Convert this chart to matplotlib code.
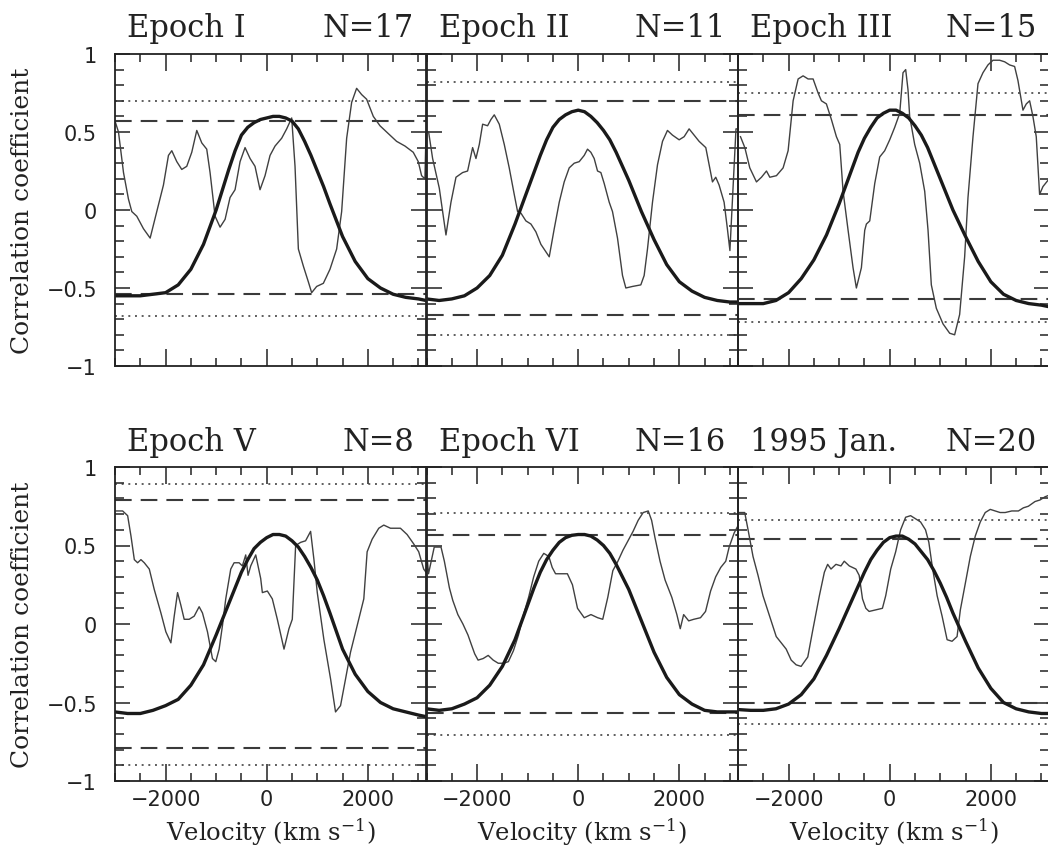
import matplotlib
matplotlib.use("Agg")
import matplotlib.pyplot as plt
from matplotlib.ticker import MultipleLocator, FixedLocator, FixedFormatter

plt.rcParams['lines.scale_dashes'] = False
plt.rcParams['mathtext.fontset'] = 'dejavuserif'

# ---------------- data ----------------
titles = ["Epoch I", "Epoch II", "Epoch III", "Epoch V", "Epoch VI", "1995 Jan."]
n_labels = ["N=17", "N=11", "N=15", "N=8", "N=16", "N=20"]

# significance levels (dashed, dotted): upper / lower
dash_hi = [0.57, 0.70, 0.61, 0.79, 0.57, 0.54]
dash_lo = [-0.54, -0.67, -0.57, -0.79, -0.57, -0.50]
dot_hi = [0.70, 0.82, 0.75, 0.89, 0.71, 0.66]
dot_lo = [-0.68, -0.80, -0.72, -0.90, -0.71, -0.64]

# thin lines: observed cross-correlation
vel_1 = [-2990, -2931, -2832, -2734, -2668, -2569, -2437, -2305, -2174, -2042,
         -1943, -1877, -1778, -1680, -1581, -1482, -1383, -1284, -1186, -1120,
         -1021, -922, -823, -725, -626, -527, -428, -329, -231, -132,
         -33, 66, 165, 296, 395, 494, 560, 626, 725, 823,
         889, 988, 1120, 1251, 1383, 1482, 1581, 1680, 1778, 1877,
         1976, 2108, 2240, 2404, 2569, 2734, 2898, 2997, 3063, 3129, 3150]
corr_1 = [0.56, 0.50, 0.24, 0.07, -0.01, -0.04, -0.12, -0.18, -0.01, 0.16,
          0.35, 0.38, 0.31, 0.26, 0.28, 0.37, 0.51, 0.43, 0.39, 0.24,
          -0.04, -0.11, -0.06, 0.08, 0.13, 0.31, 0.40, 0.33, 0.28, 0.13,
          0.22, 0.35, 0.41, 0.46, 0.52, 0.59, 0.28, -0.25, -0.36, -0.46,
          -0.53, -0.49, -0.47, -0.38, -0.25, -0.01, 0.46, 0.69, 0.78, 0.74,
          0.71, 0.60, 0.54, 0.49, 0.44, 0.41, 0.37, 0.31, 0.22, 0.20, 0.50]

vel_2 = [-2958, -2879, -2747, -2615, -2516, -2417, -2286, -2187, -2088, -2022,
         -1956, -1890, -1792, -1726, -1660, -1561, -1462, -1364, -1265, -1199,
         -1133, -1034, -935, -837, -738, -573, -474, -375, -277, -178,
         -79, 20, 119, 184, 250, 316, 382, 448, 514, 613,
         678, 777, 876, 942, 1074, 1238, 1304, 1370, 1469, 1568,
         1667, 1765, 1864, 1996, 2095, 2193, 2292, 2391, 2523, 2589,
         2655, 2720, 2786, 2885, 2950, 3000, 3120, 3150]
corr_2 = [0.50, 0.33, 0.14, -0.16, 0.05, 0.21, 0.24, 0.25, 0.40, 0.33,
          0.42, 0.55, 0.54, 0.58, 0.61, 0.55, 0.42, 0.27, 0.10, -0.01,
          -0.02, -0.07, -0.09, -0.14, -0.22, -0.30, -0.12, 0.05, 0.18, 0.27,
          0.30, 0.31, 0.35, 0.39, 0.37, 0.33, 0.25, 0.24, 0.17, 0.05,
          -0.01, -0.18, -0.42, -0.50, -0.49, -0.48, -0.42, -0.25, 0.05, 0.29,
          0.44, 0.51, 0.48, 0.45, 0.47, 0.52, 0.48, 0.44, 0.40, 0.29,
          0.18, 0.21, 0.16, 0.05, -0.12, -0.26, 0.52, 0.52]

vel_3 = [-2951, -2865, -2767, -2635, -2536, -2437, -2371, -2240, -2108, -2009,
         -1910, -1811, -1713, -1614, -1515, -1416, -1350, -1252, -1153, -1054,
         -988, -922, -823, -725, -659, -560, -494, -461, -395, -296,
         -198, -99, 0, 99, 198, 263, 316, 362, 395, 494,
         593, 692, 758, 823, 922, 1054, 1186, 1284, 1383, 1482,
         1548, 1647, 1746, 1844, 1943, 2042, 2174, 2273, 2371, 2470,
         2536, 2635, 2701, 2767, 2832, 2898, 2964, 3030, 3129]
corr_3 = [0.47, 0.40, 0.27, 0.18, 0.21, 0.25, 0.21, 0.22, 0.27, 0.38,
          0.70, 0.84, 0.86, 0.84, 0.84, 0.75, 0.70, 0.68, 0.58, 0.47,
          0.42, 0.12, -0.13, -0.37, -0.50, -0.37, -0.13, -0.09, -0.07, 0.17,
          0.34, 0.38, 0.45, 0.53, 0.62, 0.88, 0.90, 0.77, 0.60, 0.42,
          0.30, 0.12, -0.13, -0.48, -0.63, -0.73, -0.79, -0.80, -0.67, -0.30,
          0.08, 0.47, 0.81, 0.88, 0.93, 0.96, 0.96, 0.95, 0.93, 0.92,
          0.83, 0.64, 0.68, 0.70, 0.60, 0.47, 0.10, 0.15, 0.19]

vel_4 = [-2980, -2849, -2750, -2684, -2618, -2553, -2487, -2421, -2322, -2224,
         -2092, -1994, -1895, -1829, -1763, -1698, -1632, -1533, -1434, -1336,
         -1270, -1171, -1073, -1007, -941, -875, -810, -711, -645, -546,
         -481, -415, -369, -316, -217, -119, -86, 13, 111, 210,
         342, 440, 506, 572, 671, 769, 868, 934, 1000, 1131,
         1263, 1361, 1460, 1559, 1657, 1789, 1920, 1986, 2085, 2216,
         2315, 2447, 2644, 2776, 2907, 3006, 3104, 3150]
corr_4 = [0.72, 0.72, 0.69, 0.56, 0.41, 0.39, 0.41, 0.39, 0.35, 0.22,
          0.07, -0.05, -0.12, 0.05, 0.20, 0.12, 0.03, 0.03, 0.05, 0.11,
          0.07, -0.05, -0.22, -0.24, -0.16, -0.01, 0.16, 0.35, 0.39, 0.39,
          0.37, 0.44, 0.31, 0.37, 0.44, 0.29, 0.20, 0.21, 0.16, 0.03,
          -0.16, -0.03, 0.03, 0.50, 0.52, 0.53, 0.59, 0.41, 0.20, -0.10,
          -0.35, -0.56, -0.52, -0.35, -0.18, -0.01, 0.16, 0.46, 0.54, 0.61,
          0.63, 0.61, 0.61, 0.57, 0.51, 0.46, 0.35, 0.33]

vel_5 = [-3000, -2960, -2847, -2713, -2647, -2547, -2480, -2380, -2280, -2180,
         -2114, -2047, -1980, -1880, -1780, -1681, -1581, -1481, -1381, -1281,
         -1181, -1081, -981, -881, -781, -681, -581, -514, -448, -348,
         -214, -114, -14, 119, 252, 385, 485, 585, 685, 785,
         885, 985, 1085, 1185, 1285, 1385, 1452, 1518, 1618, 1718,
         1851, 1951, 2018, 2085, 2185, 2285, 2418, 2518, 2618, 2718,
         2818, 2918, 2985, 3084, 3150]
corr_5 = [0.47, 0.32, 0.49, 0.49, 0.40, 0.23, 0.15, 0.06, 0.00, -0.07,
          -0.13, -0.19, -0.23, -0.22, -0.20, -0.23, -0.25, -0.25, -0.24, -0.17,
          -0.07, 0.06, 0.17, 0.30, 0.40, 0.45, 0.43, 0.36, 0.32, 0.32,
          0.32, 0.25, 0.10, 0.04, 0.06, 0.04, 0.03, 0.17, 0.34, 0.40,
          0.47, 0.53, 0.59, 0.66, 0.71, 0.72, 0.66, 0.55, 0.40, 0.28,
          0.17, 0.06, -0.03, 0.06, 0.02, 0.03, 0.04, 0.08, 0.21, 0.30,
          0.36, 0.40, 0.49, 0.58, 0.62]

vel_6 = [-2978, -2867, -2801, -2703, -2604, -2506, -2375, -2244, -2145, -2047,
         -1948, -1850, -1752, -1620, -1522, -1391, -1292, -1227, -1161, -1063,
         -964, -899, -800, -669, -604, -538, -472, -407, -276, -144,
         -79, 20, 118, 216, 315, 413, 512, 610, 708, 774,
         840, 938, 1036, 1135, 1233, 1332, 1397, 1496, 1594, 1692,
         1791, 1889, 1988, 2086, 2184, 2283, 2414, 2545, 2644, 2742,
         2873, 2972, 3070, 3150]
corr_6 = [0.71, 0.71, 0.60, 0.43, 0.31, 0.18, 0.05, -0.08, -0.12, -0.16,
          -0.23, -0.26, -0.27, -0.21, -0.04, 0.18, 0.33, 0.38, 0.35, 0.38,
          0.37, 0.40, 0.37, 0.35, 0.31, 0.16, 0.10, 0.08, 0.09, 0.10,
          0.18, 0.35, 0.46, 0.60, 0.68, 0.69, 0.67, 0.65, 0.60, 0.52,
          0.37, 0.18, 0.05, -0.10, -0.11, -0.08, 0.09, 0.26, 0.43, 0.56,
          0.65, 0.71, 0.73, 0.72, 0.71, 0.71, 0.72, 0.72, 0.74, 0.75,
          0.78, 0.79, 0.81, 0.82]

# thick lines: expected correlation curve
fit_vel = [-3000, -2750, -2500, -2250, -2000, -1750, -1500, -1250,
           -1000, -875, -750, -625, -500, -375, -250, -125, 0,
           125, 250, 375, 500, 625, 750, 875, 1000, 1125, 1250,
           1500, 1750, 2000, 2250, 2500, 2750, 3000, 3150]
fit_1 = [-0.55, -0.55, -0.55, -0.54, -0.53, -0.48, -0.38, -0.22,
         0.00, 0.13, 0.26, 0.38, 0.48, 0.53, 0.56, 0.58, 0.59,
         0.60, 0.60, 0.59, 0.57, 0.52, 0.44, 0.35, 0.25, 0.15, 0.04,
         -0.17, -0.33, -0.44, -0.50, -0.54, -0.56, -0.57, -0.58]
fit_2 = [-0.57, -0.58, -0.57, -0.55, -0.50, -0.42, -0.29, -0.09,
         0.13, 0.24, 0.35, 0.45, 0.53, 0.58, 0.61, 0.63, 0.64,
         0.63, 0.60, 0.56, 0.51, 0.45, 0.37, 0.28, 0.19, 0.09, -0.01,
         -0.19, -0.35, -0.46, -0.52, -0.56, -0.58, -0.59, -0.59]
fit_3 = [-0.60, -0.60, -0.60, -0.58, -0.53, -0.44, -0.32, -0.16,
         0.04, 0.15, 0.26, 0.37, 0.46, 0.53, 0.59, 0.62, 0.64,
         0.64, 0.62, 0.59, 0.54, 0.48, 0.40, 0.30, 0.20, 0.10, 0.00,
         -0.17, -0.33, -0.46, -0.54, -0.58, -0.60, -0.61, -0.62]
fit_4 = [-0.56, -0.57, -0.57, -0.55, -0.52, -0.48, -0.39, -0.26,
         -0.07, 0.03, 0.13, 0.23, 0.33, 0.41, 0.48, 0.52, 0.55,
         0.57, 0.57, 0.56, 0.53, 0.49, 0.43, 0.36, 0.28, 0.18, 0.07,
         -0.16, -0.32, -0.43, -0.50, -0.54, -0.56, -0.58, -0.59]
fit_5 = [-0.54, -0.55, -0.54, -0.51, -0.47, -0.39, -0.27, -0.10,
         0.12, 0.23, 0.33, 0.41, 0.47, 0.52, 0.55, 0.565, 0.57,
         0.57, 0.56, 0.535, 0.50, 0.45, 0.38, 0.30, 0.22, 0.12, 0.02,
         -0.18, -0.34, -0.45, -0.51, -0.55, -0.56, -0.56, -0.56]
fit_6 = [-0.545, -0.55, -0.55, -0.54, -0.51, -0.45, -0.35, -0.20,
         -0.03, 0.06, 0.15, 0.24, 0.33, 0.41, 0.47, 0.52, 0.55,
         0.56, 0.56, 0.54, 0.51, 0.46, 0.41, 0.34, 0.26, 0.17, 0.07,
         -0.11, -0.28, -0.41, -0.50, -0.54, -0.56, -0.57, -0.57]

ytick_values = [-1, -0.5, 0, 0.5, 1]
ytick_labels = ["\u22121", "\u22120.5", "0", "0.5", "1"]
xtick_values = [-2000, 0, 2000]
xtick_labels = ["\u22122000", "0", "2000"]

thin_v = [vel_1, vel_2, vel_3, vel_4, vel_5, vel_6]
thin_r = [corr_1, corr_2, corr_3, corr_4, corr_5, corr_6]
fits = [fit_1, fit_2, fit_3, fit_4, fit_5, fit_6]

# ---------------- layout ----------------
W, H = 1048, 853
fig = plt.figure(figsize=(W / 100, H / 100), dpi=100)
col_left = [115, 426.5, 738]
col_w = 311
row_bottom = [H - 367, H - 782]
row_h = [312, 314]

ink = "#222222"
serif = "DejaVu Serif"

for i in range(6):
    r, c = divmod(i, 3)
    ax = fig.add_axes([col_left[c] / W, row_bottom[r] / H, col_w / W, row_h[r] / H])
    ax.set_facecolor("none")
    ax.set_xlim(-3000, 3150)
    ax.set_ylim(-1, 1)

    ax.axhline(dot_hi[i], color="#333333", lw=1.1, ls=(0, (1.4, 3.4)))
    ax.axhline(dot_lo[i], color="#333333", lw=1.1, ls=(0, (1.4, 3.4)))
    ax.axhline(dash_hi[i], color="#3a3a3a", lw=1.5, ls=(0, (12, 6.5)))
    ax.axhline(dash_lo[i], color="#3a3a3a", lw=1.5, ls=(0, (12, 6.5)))

    ax.plot(thin_v[i], thin_r[i], color="#404040", lw=1.0)
    ax.plot(fit_vel, fits[i], color="#1a1a1a", lw=2.4, solid_joinstyle="round")

    for s in ax.spines.values():
        s.set_linewidth(1.3)
        s.set_color(ink)

    ax.xaxis.set_major_locator(FixedLocator(xtick_values))
    ax.xaxis.set_minor_locator(MultipleLocator(500))
    ax.yaxis.set_major_locator(FixedLocator(ytick_values))
    ax.yaxis.set_minor_locator(MultipleLocator(0.1))
    ax.tick_params(which="both", direction="in", top=True, bottom=True,
                   left=True, right=True, color=ink, width=1.1)
    ax.tick_params(axis="x", which="major", length=12, pad=6)
    ax.tick_params(axis="x", which="minor", length=6)
    ax.tick_params(axis="y", which="major", length=11, pad=13)
    ax.tick_params(axis="y", which="minor", length=6.5)

    if r == 1:
        ax.xaxis.set_major_formatter(FixedFormatter(xtick_labels))
    else:
        ax.set_xticklabels([])
    if c == 0:
        ax.yaxis.set_major_formatter(FixedFormatter(ytick_labels))
    else:
        ax.set_yticklabels([])
    for lab in ax.get_xticklabels() + ax.get_yticklabels():
        lab.set_fontsize(15)
        lab.set_color(ink)
        lab.set_family("DejaVu Sans")

    ty = 1.058 if r == 0 else 1.054
    ax.text(0.04, ty, titles[i], transform=ax.transAxes, ha="left",
            va="baseline", fontsize=22, family=serif, color=ink)
    ax.text(0.962, ty, n_labels[i], transform=ax.transAxes, ha="right",
            va="baseline", fontsize=22, family=serif, color=ink)

    if c == 0:
        fig.text(23 / W, (row_bottom[r] + row_h[r] / 2) / H, "Correlation coefficient",
                 rotation=90, ha="center", va="center", fontsize=18,
                 family=serif, color=ink)
    if r == 1:
        fig.text((col_left[c] + col_w / 2) / W, (H - 832) / H,
                 r"Velocity (km s$^{-1}$)", ha="center", va="center",
                 fontsize=17.5, family=serif, color=ink)

fig.savefig("out.png", dpi=100, facecolor="white")
